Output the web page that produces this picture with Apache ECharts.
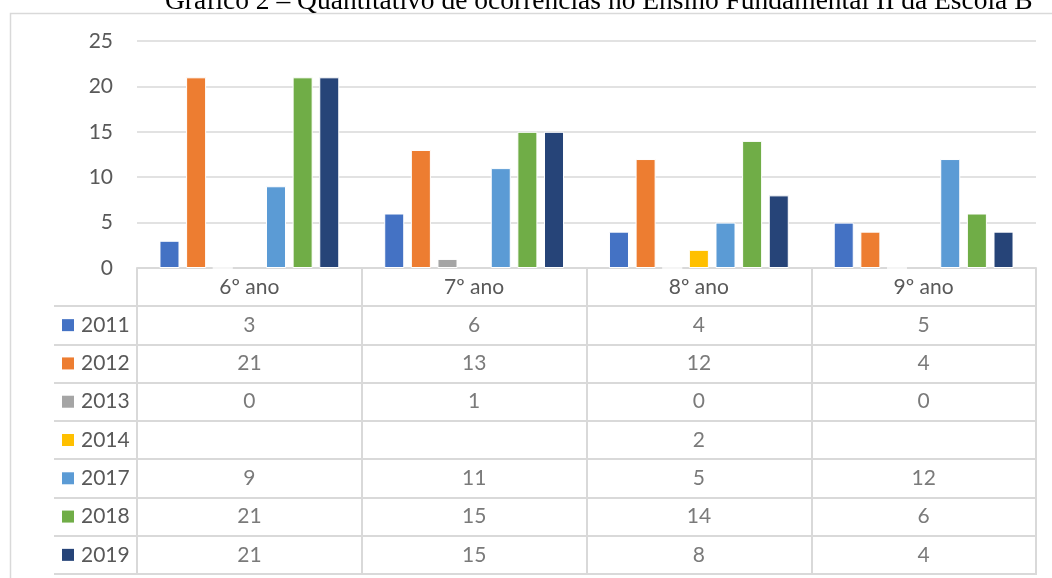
<!DOCTYPE html>
<html><head><meta charset="utf-8">
<script src="https://cdn.jsdelivr.net/npm/echarts@6/dist/echarts.min.js"></script>
<style>html,body{margin:0;padding:0;background:#fff}#c{width:1052px;height:578px}</style>
</head><body><div id="c"></div>
<script>
const titleText = 'Gráfico 2 – Quantitativo de ocorrências no Ensino Fundamental II da Escola B';
const categories = ['6º ano', '7º ano', '8º ano', '9º ano'];
const years = ['2011', '2012', '2013', '2014', '2017', '2018', '2019'];
const s2011 = [3, 6, 4, 5];
const s2012 = [21, 13, 12, 4];
const s2013 = [0, 1, 0, 0];
const s2014 = [null, null, 2, null];
const s2017 = [9, 11, 5, 12];
const s2018 = [21, 15, 14, 6];
const s2019 = [21, 15, 8, 4];
const yTicks = [0, 5, 10, 15, 20, 25];

const seriesData = [s2011, s2012, s2013, s2014, s2017, s2018, s2019];
const colors = ['#4472C4', '#ED7D31', '#A5A5A5', '#FFC000', '#5B9BD5', '#70AD47', '#264478'];
const FONT = 'Lato';
const FS = 21;
const TXT = '#595959';
const LINE = '#d9d9d9';

const rich = { t: { fontFamily: FONT, fontSize: FS, color: TXT, padding: [0, 0, 0, 7] } };
colors.forEach((c, i) => { rich['m' + i] = { backgroundColor: c, width: 12, height: 12 }; });

const barSeries = years.map((y, i) => ({
  name: y, type: 'bar', xAxisIndex: 0, yAxisIndex: 0,
  data: seriesData[i],
  barGap: '33%', barCategoryGap: '20%',
  itemStyle: { color: colors[i], borderColor: '#ffffff', borderWidth: 1 },
  silent: true
}));

const cells = [];
seriesData.forEach((arr, yi) => arr.forEach((v, ci) => { if (v !== null) cells.push([ci, yi, v]); }));

const tableSeries = {
  type: 'scatter', xAxisIndex: 1, yAxisIndex: 1,
  data: cells, symbolSize: 1, itemStyle: { color: 'rgba(0,0,0,0)' },
  label: { show: true, position: 'inside', formatter: p => String(p.value[2]),
    fontFamily: FONT, fontSize: FS, color: TXT },
  silent: true
};

const option = {
  animation: false,
  backgroundColor: '#fff',
  title: { text: titleText, left: 160, top: -17,
    textStyle: { fontFamily: 'Liberation Serif', fontWeight: 'normal', fontSize: 27.5, color: '#000' } },
  graphic: [{ type: 'rect', left: 8, top: 11, shape: { width: 1100, height: 620 },
    style: { fill: 'none', stroke: LINE, lineWidth: 1.5 }, silent: true, z: -1 }],
  grid: [
    { left: 137, right: 16, top: 41, bottom: 310 },
    { left: 137, right: 16, top: 306, bottom: 4, show: true, borderColor: LINE, borderWidth: 2 }
  ],
  xAxis: [
    { type: 'category', gridIndex: 0, data: categories,
      axisLine: { show: true, lineStyle: { color: LINE, width: 2 } },
      axisTick: { show: false }, axisLabel: { show: false } },
    { type: 'category', gridIndex: 1, data: categories, position: 'top',
      axisLine: { show: false },
      axisTick: { show: true, length: 38, lineStyle: { color: LINE, width: 2 } },
      axisLabel: { show: true, margin: 8, fontFamily: FONT, fontSize: FS, color: TXT },
      splitLine: { show: true, lineStyle: { color: LINE, width: 2 } } }
  ],
  yAxis: [
    { type: 'value', gridIndex: 0, min: 0, max: 25, interval: 5,
      axisLine: { show: false }, axisTick: { show: false },
      axisLabel: { margin: 24, fontFamily: FONT, fontSize: FS, color: TXT,
        formatter: v => yTicks.includes(v) ? String(v) : '' },
      splitLine: { lineStyle: { color: LINE, width: 1.5 } } },
    { type: 'category', gridIndex: 1, data: years, inverse: true,
      axisLine: { show: false },
      axisTick: { show: true, length: 83, lineStyle: { color: LINE, width: 2 } },
      axisLabel: { show: true, align: 'left', margin: 75,
        formatter: (v, i) => '{m' + i + '|}{t|' + v + '}', rich: rich },
      splitLine: { show: true, lineStyle: { color: LINE, width: 2 } } },
    { type: 'category', gridIndex: 1, data: years, inverse: true, offset: 83,
      axisLine: { show: true, lineStyle: { color: LINE, width: 2 } },
      axisTick: { show: false }, axisLabel: { show: false } }
  ],
  series: barSeries.concat([tableSeries])
};

echarts.init(document.getElementById('c'), null, { renderer: 'canvas' }).setOption(option);
</script></body></html>
